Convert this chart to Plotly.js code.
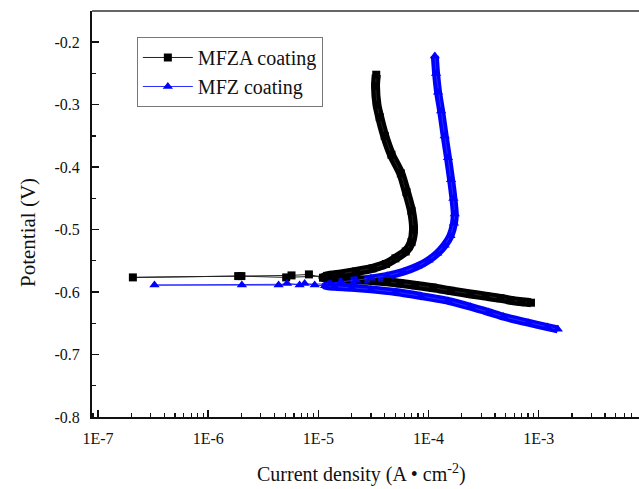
<!DOCTYPE html>
<html>
<head>
<meta charset="utf-8">
<script src="https://cdn.plot.ly/plotly-3.0.1.min.js"></script>
<style>html,body{margin:0;padding:0;background:#fff;}#chart{width:639px;height:489px;}</style>
</head>
<body>
<div id="chart"></div>
<script>
// ---- Data (current density in A/cm2, potential in V) ----
const seriesNames = ["MFZA coating", "MFZ coating"];

// MFZA coating
const mfzaCathI = [8.5e-4, 7e-4, 5.5e-4, 4.5e-4, 3.3e-4, 2.4e-4, 1.6e-4, 1.1e-4, 7.5e-5, 5.5e-5, 4.2e-5, 3.2e-5, 2.4e-5, 1.8e-5, 1.4e-5, 1.1e-5];
const mfzaCathV = [-0.617, -0.6155, -0.613, -0.610, -0.6065, -0.603, -0.598, -0.593, -0.589, -0.586, -0.5835, -0.582, -0.5805, -0.579, -0.578, -0.577];
const mfzaSparseI = [8.2e-6, 5.7e-6, 2.0e-6, 2.07e-7, 1.87e-6, 5.1e-6];
const mfzaSparseV = [-0.5717, -0.5733, -0.5744, -0.5765, -0.5744, -0.5765];
const mfzaAnodI = [1.2e-5, 1.6e-5, 2.2e-5, 3.1e-5, 4.1e-5, 5.0e-5, 6.2e-5, 7.0e-5, 7.3e-5, 7.0e-5, 6.3e-5, 5.6e-5, 4.6e-5, 4.0e-5, 3.6e-5, 3.4e-5, 3.3e-5, 3.35e-5];
const mfzaAnodV = [-0.574, -0.571, -0.567, -0.562, -0.555, -0.546, -0.535, -0.52, -0.50, -0.47, -0.44, -0.41, -0.38, -0.35, -0.32, -0.30, -0.27, -0.252];

// MFZ coating
const mfzCathI = [1.49e-3, 1.2e-3, 8e-4, 4.8e-4, 3.5e-4, 2.4e-4, 1.5e-4, 8.5e-5, 5e-5, 3e-5, 2e-5, 1.4e-5, 1.15e-5];
const mfzCathV = [-0.6597, -0.656, -0.649, -0.6395, -0.632, -0.6235, -0.614, -0.6064, -0.600, -0.5957, -0.593, -0.5915, -0.590];
const mfzSparseI = [9.25e-6, 7.5e-6, 6.75e-6, 5.19e-6, 4.35e-6, 2.02e-6, 3.25e-7];
const mfzSparseV = [-0.5888, -0.5861, -0.5888, -0.5861, -0.5888, -0.5888, -0.5888];
const mfzAnodI = [1.3e-5, 1.6e-5, 2.2e-5, 3.0e-5, 4.2e-5, 5.9e-5, 7.9e-5, 1.0e-4, 1.2e-4, 1.4e-4, 1.58e-4, 1.7e-4, 1.73e-4, 1.68e-4, 1.6e-4, 1.5e-4, 1.4e-4, 1.3e-4, 1.22e-4, 1.17e-4, 1.14e-4];
const mfzAnodV = [-0.587, -0.5835, -0.581, -0.578, -0.574, -0.5675, -0.559, -0.549, -0.538, -0.525, -0.510, -0.490, -0.475, -0.45, -0.42, -0.385, -0.35, -0.31, -0.28, -0.25, -0.222];

// Ticks
const xTickVals = [1e-7, 1e-6, 1e-5, 1e-4, 1e-3];
const xTickText = ["1E-7", "1E-6", "1E-5", "1E-4", "1E-3"];
const yTickVals = [-0.8, -0.7, -0.6, -0.5, -0.4, -0.3, -0.2];
const yTickText = ["-0.8", "-0.7", "-0.6", "-0.5", "-0.4", "-0.3", "-0.2"];
const yMinorVals = [-0.75, -0.65, -0.55, -0.45, -0.35, -0.25, -0.15];

const xTitle = "Current density (A \u2022 cm<sup>-2</sup>)";
const yTitle = "Potential (V)";

// ---- Build ----
const xMinorVals = [];
for (let e = -8; e <= -2; e++) {
  for (let m = 2; m <= 9; m++) xMinorVals.push(m * Math.pow(10, e));
}

const FONT = "Liberation Serif, Times New Roman, serif";
const BLACK = "#000000";
const BLUE = "#0000ff";

const traces = [
  { // dense band MFZA
    x: mfzaCathI.concat(mfzaAnodI), y: mfzaCathV.concat(mfzaAnodV),
    type: "scatter", mode: "lines", showlegend: false, hoverinfo: "skip",
    line: { color: BLACK, width: 9, shape: "spline", smoothing: 0.6 }
  },
  { // dense band MFZ
    x: mfzCathI.concat(mfzAnodI), y: mfzCathV.concat(mfzAnodV),
    type: "scatter", mode: "lines", showlegend: false, hoverinfo: "skip",
    line: { color: BLUE, width: 8, shape: "spline", smoothing: 0.6 }
  },
  {
    name: seriesNames[0],
    x: mfzaCathI.concat(mfzaSparseI, mfzaAnodI), y: mfzaCathV.concat(mfzaSparseV, mfzaAnodV),
    type: "scatter", mode: "lines+markers",
    line: { color: "#222222", width: 1 },
    marker: { symbol: "square", size: 8, color: BLACK }
  },
  {
    name: seriesNames[1],
    x: mfzCathI.concat(mfzSparseI, mfzAnodI), y: mfzCathV.concat(mfzSparseV, mfzAnodV),
    type: "scatter", mode: "lines+markers",
    line: { color: "#2a2aff", width: 1 },
    marker: { symbol: "triangle-up", size: 9, color: BLUE }
  }
];

const layout = {
  width: 639, height: 489,
  margin: { l: 92, r: 0, t: 11, b: 72, pad: 0 },
  paper_bgcolor: "#ffffff", plot_bgcolor: "#ffffff",
  font: { family: FONT, size: 16, color: "#111" },
  showlegend: true,
  legend: {
    x: 0.082, y: 0.936, xanchor: "left", yanchor: "top",
    bgcolor: "rgba(255,255,255,0)", bordercolor: "#777", borderwidth: 1,
    font: { family: FONT, size: 20, color: "#111" },
    itemwidth: 50, tracegroupgap: 0
  },
  xaxis: {
    type: "log", range: [-7.055, -2.09],
    tickmode: "array", tickvals: xTickVals, ticktext: xTickText,
    ticks: "inside", ticklen: 7, tickwidth: 1.5, tickcolor: "#111",
    minor: { tickmode: "array", tickvals: xMinorVals, ticks: "inside", ticklen: 4, tickwidth: 1.2, tickcolor: "#111" },
    showline: true, linecolor: "#111", linewidth: 2, mirror: false,
    showgrid: false, zeroline: false,
    tickfont: { family: FONT, size: 16, color: "#111" },
    ticklabelstandoff: 6
  },
  yaxis: {
    range: [-0.8, -0.15],
    tickmode: "array", tickvals: yTickVals, ticktext: yTickText,
    ticks: "inside", ticklen: 7, tickwidth: 1.5, tickcolor: "#111",
    minor: { tickmode: "array", tickvals: yMinorVals, ticks: "inside", ticklen: 4, tickwidth: 1.2, tickcolor: "#111" },
    showline: true, linecolor: "#111", linewidth: 2, mirror: false,
    showgrid: false, zeroline: false,
    tickfont: { family: FONT, size: 16, color: "#111" },
    ticklabelstandoff: 7
  },
  shapes: [
    { type: "line", xref: "paper", yref: "paper", x0: 0, x1: 1, y0: 1, y1: 1,
      line: { color: "#666", width: 2 } }
  ],
  annotations: [
    { text: xTitle, xref: "paper", yref: "paper", x: (361 - 92) / 547, y: -(473 - 417) / 406,
      xanchor: "center", yanchor: "middle", showarrow: false,
      font: { family: FONT, size: 20, color: "#111" } },
    { text: yTitle, xref: "paper", yref: "paper", x: (28 - 92) / 547, y: (417 - 233) / 406,
      xanchor: "center", yanchor: "middle", showarrow: false, textangle: -90,
      font: { family: FONT, size: 21, color: "#111" } }
  ]
};

Plotly.newPlot("chart", traces, layout, { staticPlot: true, displayModeBar: false });
</script>
</body>
</html>
